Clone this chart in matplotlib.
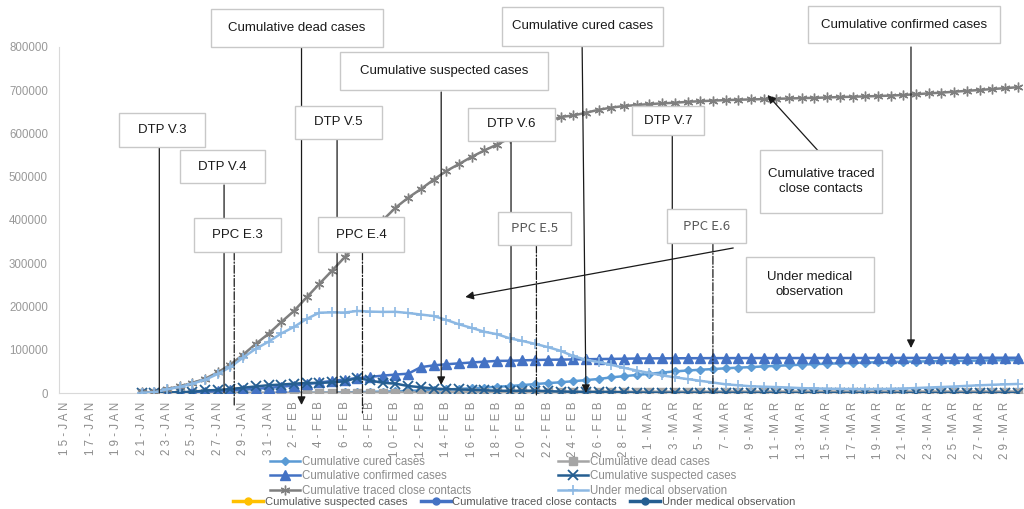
import matplotlib.pyplot as plt
from matplotlib.patches import Rectangle
from matplotlib.lines import Line2D
import numpy as np

plt.rcParams['font.family'] = ['Liberation Sans', 'DejaVu Sans']

# x axis: one category per day, 15-JAN .. 30-MAR (76 days), labels every 2nd day
n_days = 76
first_day = 6  # data starts on 21-JAN
tick_labels = ['15-JAN', '17-JAN', '19-JAN', '21-JAN', '23-JAN', '25-JAN', '27-JAN',
               '29-JAN', '31-JAN', '2-FEB', '4-FEB', '6-FEB', '8-FEB', '10-FEB',
               '12-FEB', '14-FEB', '16-FEB', '18-FEB', '20-FEB', '22-FEB', '24-FEB',
               '26-FEB', '28-FEB', '1-MAR', '3-MAR', '5-MAR', '7-MAR', '9-MAR',
               '11-MAR', '13-MAR', '15-MAR', '17-MAR', '19-MAR', '21-MAR', '23-MAR',
               '25-MAR', '27-MAR', '29-MAR']

# daily values 21-JAN .. 30-MAR
cured = [25, 28, 34, 38, 49, 51, 60, 103, 124, 171, 243,
         328, 475, 632, 892, 1153, 1540, 2050, 2649, 3281, 3996, 4740, 5911, 6723, 8096,
         9419, 10844, 12552, 14376, 16155, 18264, 20659, 22888, 24734, 27323, 29745,
         32495, 36117, 39002, 41625,
         44462, 47204, 49856, 52045, 53726, 55404, 57065, 58600, 59897, 61475, 62793,
         64111, 65541, 66911, 67749, 68679, 69601, 70420, 71150, 71740, 72244, 72703,
         73159, 73650, 74051, 74588, 74971, 75448, 75790, 76052]
dead = [9, 17, 25, 41, 56, 80, 106, 132, 170, 213, 259,
        304, 361, 425, 490, 563, 636, 722, 811, 908, 1016, 1113, 1367, 1380, 1523, 1665,
        1770, 1868, 2004, 2118, 2236, 2345, 2442, 2592, 2663, 2715, 2744, 2788, 2835, 2870,
        2912, 2943, 2981, 3012, 3042, 3070, 3097, 3119, 3136, 3158, 3169, 3176, 3189, 3199,
        3213, 3226, 3237, 3245, 3248, 3255, 3261, 3270, 3277, 3281, 3287, 3292, 3295, 3300,
        3304, 3305]
confirmed = [440, 571, 830, 1287, 1975, 2744, 4515, 5974, 7711, 9692, 11791,
             14380, 17205, 20438, 24324, 28018, 31161, 34546, 37198, 40171, 42638, 44653,
             59804, 63851, 66492, 68500, 70548, 72436, 74185, 74576, 75465, 76288, 76936,
             77150, 77658, 78064, 78497, 78824, 79251, 79824,
             80026, 80151, 80270, 80409, 80552, 80651, 80695, 80735, 80754, 80778, 80793,
             80813, 80824, 80844, 80860, 80881, 80894, 80928, 80967, 81008, 81054, 81093,
             81171, 81218, 81285, 81340, 81394, 81439, 81470, 81518]
suspected = [50, 393, 1072, 1965, 2684, 5794, 6973, 9239, 12167, 15238, 17988,
             19544, 21558, 23214, 23260, 24702, 27000, 35000, 29000, 23589, 21675, 16067,
             13435, 10109, 8969, 8228, 7264, 6242, 5248, 4922, 5206, 5365, 4148, 3434,
             2824, 2491, 2358, 2308, 1418, 851,
             715, 587, 520, 522, 482, 502, 458, 421, 349, 285, 253, 147, 115, 113, 134,
             128, 119, 105, 104, 106, 118, 136, 132, 134, 159, 168, 174, 172, 184, 183]
traced = [1700, 2200, 9500, 15200, 23400, 32800, 47800, 65500, 88700, 113600, 137000,
          163800, 189600, 221000, 252200, 282800, 314000, 345500, 371900, 399500, 428400,
          451500, 471500, 493100, 513200, 529400, 546000, 560900, 574400, 589200, 606000,
          618900, 627900, 638100, 641700, 648000, 654900, 659900, 663500, 665900,
          668000, 669700, 671100, 673200, 674700, 676000, 677200, 678100, 678800, 679500,
          680300, 681000, 681800, 682400, 683300, 684300, 685000, 685800, 686600, 687700,
          689000, 690900, 692800, 694500, 696600, 698600, 700600, 702800, 704800, 707000]
observation = [900, 1400, 8400, 14000, 21600, 30500, 44000, 60000, 82000, 102400, 118500,
               137600, 152700, 171300, 185600, 186400, 186000, 189700, 188200, 187500,
               187700, 185000, 181400, 178000, 169000, 158800, 150500, 141600, 135900,
               126400, 120300, 113600, 106100, 97500, 85300, 76900, 71600, 65200, 58200,
               51900,
               46200, 40700, 36300, 32200, 28200, 24200, 20100, 17800, 15500, 14600, 13700,
               12600, 11200, 10500, 9900, 9400, 9000, 8800, 9100, 9400, 10400, 11500, 12700,
               13800, 15000, 16500, 17800, 19000, 20000, 20900]

fig = plt.figure(figsize=(10.24, 5.09), dpi=100)
ax = fig.add_axes([59 / 1024, 1 - 393 / 509, 965 / 1024, 346 / 509])

x = np.arange(first_day, first_day + len(confirmed))
lw = 1.8
ax.plot(x, cured, color='#5B9BD5', lw=lw, marker='D', ms=4.5, label='Cumulative cured cases', zorder=3)
ax.plot(x, dead, color='#A5A5A5', lw=lw, marker='s', ms=5.5, label='Cumulative dead cases', zorder=3)
ax.plot(x, confirmed, color='#4472C4', lw=lw, marker='^', ms=6.5, label='Cumulative confirmed cases', zorder=3)
ax.plot(x, suspected, color='#255E91', lw=lw, marker='x', ms=6.5, mew=1.3, label='Cumulative suspected cases', zorder=3)
ax.plot(x, traced, color='#7F7F7F', lw=lw, marker=(6, 2, 0), ms=7, mew=1, label='Cumulative traced close contacts', zorder=3)
ax.plot(x, observation, color='#8CB8E3', lw=lw, marker='+', ms=7, mew=1.2, label='Under medical observation', zorder=3)

ax.set_xlim(-0.5, n_days - 0.5)
ax.set_ylim(0, 800000)
ax.set_yticks(np.arange(0, 800001, 100000))
ax.set_xticks(np.arange(0, n_days, 2))
ax.set_xticklabels([' '.join(t) for t in tick_labels], rotation=90, fontsize=8.3, color='#8C8C8C')
ax.tick_params(axis='y', length=0, pad=8, labelsize=8.3, labelcolor='#999999')
ax.tick_params(axis='x', length=0, pad=6)
for s in ['top', 'right']:
    ax.spines[s].set_visible(False)
ax.spines['left'].set_color('#D9D9D9')
ax.spines['bottom'].set_color('#D9D9D9')


def box(x0, x1, y0, y1, text, color='#1A1A1A', family=None):
    ax.add_patch(Rectangle((x0, y0), x1 - x0, y1 - y0, fc='white', ec='#C8C8C8', lw=1,
                           clip_on=False, zorder=6))
    kw = dict(ha='center', va='center', fontsize=9.5, color=color, zorder=7,
              clip_on=False, linespacing=1.3)
    if family:
        kw['family'] = family
    ax.text((x0 + x1) / 2, (y0 + y1) / 2, text, **kw)


def arrow(x0, y0, x1, y1, head=True, ls='-'):
    ax.annotate('', xy=(x1, y1), xytext=(x0, y0), annotation_clip=False, zorder=5,
                arrowprops=dict(arrowstyle='-|>' if head else '-', color='#1A1A1A',
                                lw=0.9, ls=ls, mutation_scale=12, shrinkA=0, shrinkB=0))


# series call-outs
box(11.5, 25.0, 800000, 887800, 'Cumulative dead cases')
arrow(18.6, 800000, 18.6, -27700)
box(21.6, 38.0, 700600, 788400, 'Cumulative suspected cases')
arrow(29.6, 696000, 29.6, 18500)
box(34.4, 47.1, 802300, 892500, 'Cumulative cured cases')
arrow(40.7, 802300, 41.0, 0)
box(58.5, 73.6, 809200, 894800, 'Cumulative confirmed cases')
arrow(66.6, 800000, 66.6, 104000)
box(54.7, 64.3, 416200, 561800, 'Cumulative traced\nclose contacts')
arrow(59.8, 543300, 55.3, 689000)
box(53.6, 63.7, 187300, 314400, 'Under medical\nobservation')
arrow(52.6, 335300, 31.5, 222000)

# policy versions
arrow(7.4, 566400, 7.4, 0, head=False)
box(4.2, 11.0, 568800, 647400, 'DTP V.3')
arrow(12.5, 481000, 12.5, 0, head=False)
box(9.0, 15.7, 485500, 561800, 'DTP V.4')
arrow(13.3, 326000, 13.3, -27700, head=False, ls='-.')
box(10.1, 17.0, 326000, 404600, 'PPC E.3')
arrow(21.4, 587300, 21.4, 0, head=False)
box(18.1, 24.9, 587300, 663600, 'DTP V.5')
arrow(23.4, 326000, 23.4, -46200, head=False, ls='-.')
box(19.9, 26.7, 326000, 406900, 'PPC E.4')
arrow(35.1, 582700, 35.1, 0, head=False)
box(31.7, 38.6, 582700, 659000, 'DTP V.6')
arrow(37.1, 342200, 37.1, -4600, head=False, ls='-.')
box(34.1, 39.8, 342200, 418500, 'PPC E.5', color='#595959', family=['Noto Sans CJK SC', 'DejaVu Sans'])
arrow(47.8, 596500, 47.8, 0, head=False)
box(44.6, 50.3, 596500, 663600, 'DTP V.7')
arrow(51.0, 346800, 51.0, 0, head=False, ls='-.')
box(47.4, 53.6, 346800, 425400, 'PPC E.6', color='#595959', family=['Noto Sans CJK SC', 'DejaVu Sans'])

# legends
h, l = ax.get_legend_handles_labels()
order = [0, 2, 4, 1, 3, 5]
leg1 = fig.legend([h[i] for i in order], [l[i] for i in order], ncol=2, loc='upper left',
                  bbox_to_anchor=(270 / 1024, 1 - 456 / 509), frameon=False, fontsize=8.3,
                  labelcolor='#8C8C8C', handlelength=2.6, handletextpad=0.2,
                  columnspacing=7.5, labelspacing=0.2, borderpad=0, borderaxespad=0)
extra = [Line2D([], [], color='#FFC000', lw=2.5, marker='o', ms=5),
         Line2D([], [], color='#4472C4', lw=2.5, marker='o', ms=5),
         Line2D([], [], color='#255E91', lw=2.5, marker='o', ms=5)]
fig.legend(extra, ['Cumulative suspected cases', 'Cumulative traced close contacts',
                   'Under medical observation'], ncol=3, loc='upper left',
           bbox_to_anchor=(233 / 1024, 1 - 497 / 509), frameon=False, fontsize=8,
           labelcolor='#595959', handlelength=2.7, handletextpad=0.15,
           columnspacing=1.2, borderpad=0, borderaxespad=0)

fig.savefig('out.png', dpi=100)
